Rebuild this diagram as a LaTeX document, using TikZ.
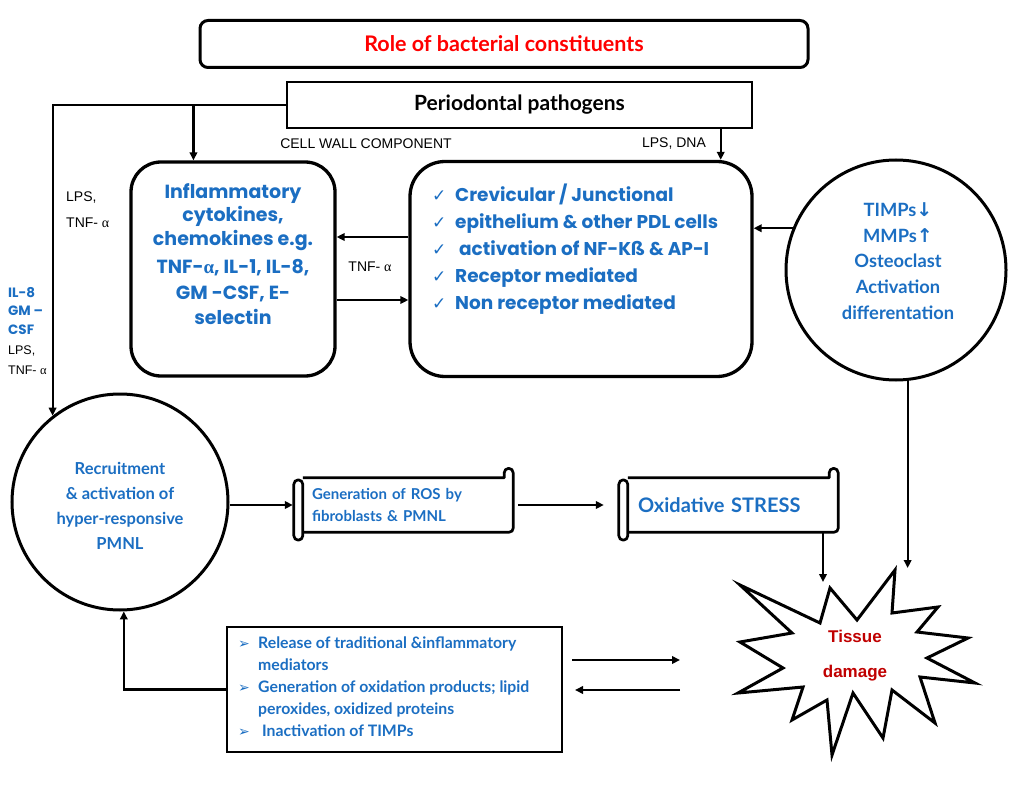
\documentclass[tikz,border=0pt]{standalone}
\usepackage{fontspec}
\setmainfont{Liberation Sans}
\newfontfamily\geofont{Poppins}
\newfontfamily\aptos{Lato}
\newfontfamily\symfont{DejaVu Sans}
\newfontfamily\grkfont{Liberation Serif}
\usetikzlibrary{arrows.meta}

\definecolor{txtblue}{HTML}{1B6EC2}
\definecolor{titlered}{HTML}{FF0000}
\definecolor{dmgred}{HTML}{C00000}

\newcommand{\al}{{\grkfont α}}
\newcommand{\chk}{\makebox[23pt][l]{\symfont\mdseries\fontsize{17}{17}\selectfont ✓}}
\newcommand{\pnt}{\makebox[20pt][l]{\symfont\mdseries\fontsize{14}{14}\selectfont ➢}}
\newcommand{\dn}{{\symfont\bfseries\fontsize{19}{19}\selectfont ↓}}
\newcommand{\upa}{{\symfont\bfseries\fontsize{19}{19}\selectfont ↑}}

%% scroll outline round a node
\newcommand{\scrollframe}[1]{%
  \draw[scrollline] (#1.north west) -- ([xshift=-9pt]#1.north east) -- ++(0,5pt)
    arc[start angle=180,end angle=0,radius=4.5pt] -- ([yshift=4pt]#1.south east)
    arc[start angle=0,end angle=-90,radius=4pt] -- (#1.south west);
  \draw[scrollline,rounded corners=4.5pt] ([xshift=-9pt,yshift=-2pt]#1.north west)
    rectangle ([yshift=-8pt]#1.south west);
}

\tikzset{
  arr/.style={line width=2.1pt,-{Triangle[length=8pt,width=7.5pt]}},
  titlebox/.style={draw,line width=3pt,rounded corners=8pt,minimum width=608pt,
    minimum height=47pt,text=titlered,font=\aptos\bfseries\fontsize{21.5}{24}\selectfont},
  pathbox/.style={draw,line width=1.2pt,minimum width=465pt,minimum height=46pt,
    font=\aptos\bfseries\fontsize{21}{24}\selectfont},
  roundbox/.style={draw,line width=3.3pt,rounded corners=#1},
  ring/.style={draw,circle,line width=3pt,inner sep=0pt},
  medbox/.style={draw,line width=2.8pt,minimum width=335pt,minimum height=125pt},
  scrollbox/.style={inner sep=0pt,minimum width=210pt,minimum height=54pt,text=txtblue},
  scrollline/.style={line width=2.7pt,line join=round},
  starline/.style={line width=3pt,line join=miter},
  lbl/.style={inner sep=0pt,font=\fontsize{14}{26}\selectfont},
  geotxt/.style={inner sep=0pt,text=txtblue,align=center},
  aptxt/.style={inner sep=0pt,text=txtblue,align=center},
}

\begin{document}
\begin{tikzpicture}[x=1pt,y=-1pt]
  \useasboundingbox (0,0) rectangle (1024,791);

  %% top boxes
  \node[titlebox] (title) at (504,44) {Role of bacterial constituents};
  \node[pathbox] (path) at (519.5,105) {Periodontal pathogens};
  \node[lbl] (cwc) at (366,144) {CELL WALL COMPONENT};
  \node[lbl] (lpsdna) at (674,144) {LPS, DNA};

  %% cytokine box and host cell box
  \node[roundbox=30pt,minimum width=204pt,minimum height=214pt] (infl) at (233,269) {};
  \node[geotxt,font=\geofont\bfseries\fontsize{19}{23.5}\selectfont] (infl-txt) at (233,254)
    {Inflammatory\\cytokines,\\chemokines e.g.\\[5pt]TNF-\al, IL-1, IL-8,\\[2pt]GM -CSF, E-\\[2pt]selectin};
  \node[roundbox=35pt,minimum width=342pt,minimum height=215pt] (host) at (581,269) {};
  \node[geotxt,align=left,anchor=west,font=\geofont\bfseries\fontsize{18.5}{27}\selectfont] (host-txt) at (432,249)
    {\chk Crevicular / Junctional\\\chk epithelium \& other PDL cells\\\chk\ activation of NF-Kß \& AP-I\\\chk Receptor mediated\\\chk Non receptor mediated};

  %% bone circle
  \node[ring,minimum size=220pt] (bone) at (896,270) {};
  \node[aptxt,font=\aptos\bfseries\fontsize{18.3}{25.7}\selectfont] (bone-txt) at (898,261)
    {TIMPs\dn\\MMPs\upa\\Osteoclast\\Activation\\differentation};

  %% side labels
  \node[lbl,align=left,anchor=west] (lbl-lps) at (66,210) {LPS,\\TNF- \al};
  \node[lbl] (lbl-tnf) at (370,267) {TNF- \al};
  \node[inner sep=0pt,align=left,anchor=west,text=txtblue,font=\geofont\bfseries\fontsize{13.5}{18.5}\selectfont] (lbl-gm) at (8,311)
    {IL-8\\GM –\\CSF};
  \node[inner sep=0pt,align=left,anchor=west,font=\fontsize{12.5}{20.5}\selectfont] (lbl-lps2) at (8,360)
    {LPS,\\TNF- \al};

  %% PMNL circle
  \node[ring,minimum size=216pt] (pmnl) at (120,502) {};
  \node[aptxt,font=\aptos\bfseries\fontsize{16.5}{25}\selectfont] (pmnl-txt) at (120,506)
    {Recruitment\\\& activation of\\hyper-responsive\\PMNL};

  %% scrolls
  \node[scrollbox,text width=192pt,align=left,font=\aptos\bfseries\fontsize{15}{22}\selectfont] (ros) at (408,505)
    {Generation of ROS by\\fibroblasts \& PMNL};
  \scrollframe{ros}
  \node[scrollbox,text width=190pt,align=left,font=\aptos\bfseries\fontsize{20}{24}\selectfont] (stress) at (733,505)
    {Oxidative STRESS};
  \scrollframe{stress}

  %% mediators box
  \node[medbox] (med) at (394.5,689.5) {};
  \node[inner sep=0pt,align=left,anchor=west,text=txtblue,font=\aptos\bfseries\fontsize{15.8}{22}\selectfont] (med-txt) at (238,687)
    {\pnt Release of traditional \&inflammatory\\\hspace*{20pt}mediators\\\pnt Generation of oxidation products; lipid\\\hspace*{20pt}peroxides, oxidized proteins\\\pnt\ Inactivation of TIMPs};

  %% tissue damage star
  \draw[starline] (740,585) -- (792,633) -- (740,642) -- (783,668) -- (738,693) -- (803,687)
    -- (792,720) -- (827,700) -- (832,755) -- (853,693) -- (883,738) -- (892,690)
    -- (935,723) -- (920,677) -- (975,683) -- (927,658) -- (968,638) -- (917,632)
    -- (938,607) -- (892,613) -- (895,570) -- (857,620) -- (830,588) -- (820,623) -- cycle;
  \node[inner sep=0pt,align=center,text=dmgred,font=\bfseries\fontsize{17}{35}\selectfont] (damage) at (855,656)
    {Tissue\\damage};
  \coordinate (dmg-top) at (908,568);
  \coordinate (dmg-left) at (823,582);
  \coordinate (fwd-a) at (572,660);
  \coordinate (fwd-b) at (680,660);
  \coordinate (bwd-a) at (680,690);
  \coordinate (bwd-b) at (575,690);

  %% connectors
  \draw[arr] (path.west) -| (pmnl.128);
  \draw[arr] (path.west -| infl.110) -- (infl.110);
  \draw[arr] (path.south -| host.38) -- (host.38);
  \draw[arr] ([yshift=32pt]host.west) -- ([yshift=32pt]infl.east);
  \draw[arr] ([yshift=-31pt]infl.east) -- ([yshift=-31pt]host.west);
  \draw[arr] (bone.158) -- (bone.158 -| host.east);
  \draw[arr] (bone.-84) -- (bone.-84 |- dmg-top);
  \draw[arr] (ros.west -| pmnl.east) -- ([xshift=-10pt]ros.west);
  \draw[arr,shorten <=5pt] (ros.east) -- ([xshift=-24pt]stress.west);
  \draw[arr] (stress.south -| dmg-left) -- (dmg-left);
  \draw[arr] (med.west) -| (pmnl.-88);
  \draw[arr] (fwd-a) -- (fwd-b);
  \draw[arr] (bwd-a) -- (bwd-b);
\end{tikzpicture}
\end{document}
